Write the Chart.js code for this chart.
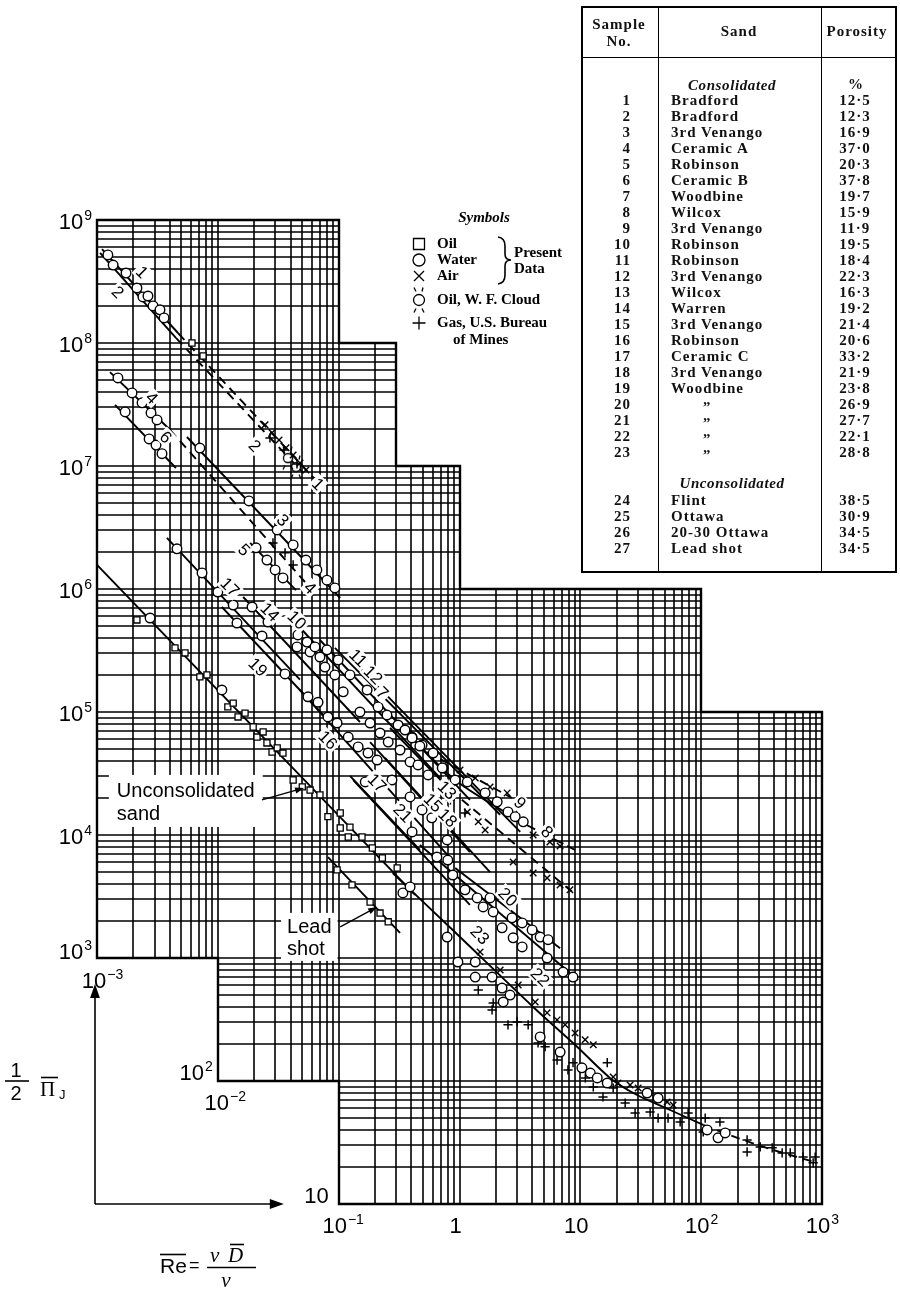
<!DOCTYPE html>
<html>
<head>
<meta charset="utf-8">
<title>Friction factor versus Reynolds number for porous media</title>
<script src="https://cdn.jsdelivr.net/npm/chart.js@4.4.1/dist/chart.umd.min.js"></script>
<style>
  html, body { margin: 0; padding: 0; background: #fff; }
  #page { position: relative; width: 900px; height: 1296px; overflow: hidden; background: #fff; }
  #chart { position: absolute; left: 0; top: 0; }
  #sandTable { position: absolute; left: 581px; top: 6px; width: 316px; height: 567px; box-sizing: border-box;
    border: 2px solid #000; font-family: "Liberation Serif", "Times New Roman", serif; font-weight: bold; color: #111; }
  #sandTable .vr { position: absolute; top: 0; bottom: 0; width: 0; border-left: 1.6px solid #000; }
  #sandTable .hr { position: absolute; left: 0; right: 0; height: 0; border-top: 1.6px solid #000; }
  #sandTable .cell { position: absolute; white-space: nowrap; font-size: 15px; line-height: 16px; letter-spacing: 1px; }
  #sandTable .it { font-style: italic; letter-spacing: 0.6px; }
</style>
</head>
<body>
<div id="page">
  <canvas id="chart" width="900" height="1296"></canvas>
  <div id="sandTable"></div>
</div>
<script>
// ---------------- axis ranges and ticks ----------------
const xRange = [1e-3, 1e3];
const yRange = [10, 1e9];
const yTicksLeft = [1e9, 1e8, 1e7, 1e6, 1e5, 1e4, 1e3];
const xTicksBottom = [1e-1, 1, 10, 1e2, 1e3];

// outline of the ruled (staircase) paper, in data units
const paperOutline = [[1e-3,1e9],[0.1,1e9],[0.1,1e8],[0.3,1e8],[0.3,1e7],[1,1e7],[1,1e6],[100,1e6],[100,1e5],
  [1000,1e5],[1000,10],[0.1,10],[0.1,100],[0.01,100],[0.01,1000],[1e-3,1000]];

// ---------------- correlation lines, one per sample ----------------
const line1 = [[1.1e-3,5.8e8],[4.7e-3,1.2e8]];
const line1Tail = [[4.7e-3,1.2e8],[6.7e-2,7.4e6]];
const line2 = [[1.06e-3,5.4e8],[4.5e-3,1.1e8]];
const line2Tail = [[4.5e-3,1.1e8],[5.07e-2,8.8e6]];
const line4 = [[1.28e-3,5.8e7],[4.02e-3,1.97e7]];
const line4Tail = [[4.02e-3,1.97e7],[5.26e-2,1.14e6]];
const line6 = [[1.41e-3,3.14e7],[4.5e-3,9.63e6]];
const line3 = [[5.55e-3,1.72e7],[0.103,8.45e5]];
const line5 = [[1.85e-2,2.37e6],[4.43e-2,9.8e5]];
const line17 = [[3.79e-3,2.6e6],[4.78e-2,1.83e5]];
const line14 = [[1.62e-2,8.61e5],[0.15,8.29e4]];
const line19 = [[1.08e-2,7.14e5],[8.46e-2,8.29e4]];
const line10 = [[3.96e-2,5.92e5],[0.69,2.91e4]];
const line11 = [[7.0e-2,3.85e5],[1.22,1.93e4]];
const line12 = [[9.3e-2,3.32e5],[2.17,1.46e4]];
const line7 = [[0.137,2.5e5],[3.18,1.06e4]];
const line16 = [[4.78e-2,1.51e5],[0.84,6.5e3]];
const line13 = [[0.266,7.41e4],[0.84,2.32e4]];
const line13Tail = [[0.84,2.32e4],[8.55,3.45e3]];
const line15 = [[0.182,5.7e4],[1.22,7.27e3]];
const line18 = [[0.242,4.23e4],[1.79,5.0e3]];
const line9 = [[0.54,4.73e4],[2.72,2.0e4]];
const line8 = [[0.322,7.84e4],[0.92,2.8e4],[3.63,1.2e4]];
const line8Tail = [[3.63,1.2e4],[9.05,7.55e3]];
const line17b = [[0.124,3.02e4],[0.47,7.55e3]];
const line21 = [[0.132,2.8e4],[1.22,2.7e3]];
const line20 = [[0.92,5.39e3],[6.8,1.2e3]];
const line22 = [[0.47,8.29e3],[9.6,6.62e2]];
const line23 = [[0.28,4.91e3],[0.84,1.76e3],[4.07,4.0e2],[9.4,1.9e2],[17.6,1.06e2],[29.5,76.9],[55.4,58.1],[104,43.9]];
const line23Tail = [[104,43.9],[199,34.5],[372,28.0],[912,21.6]];
const lineUncons = [[1e-3,1.57e6],[0.429,3.26e3]];
const lineLead = [[8.15e-2,6.62e3],[0.322,1.6e3]];

// ---------------- measured points by fluid ----------------
const waterPts = [
  [1.23e-3,5.2e8],[1.36e-3,4.3e8],[1.74e-3,3.7e8],[2.14e-3,2.8e8],[2.4e-3,2.37e8],[2.64e-3,2.41e8],[2.91e-3,2.0e8],[3.32e-3,1.86e8],[3.59e-3,1.6e8],
  [1.49e-3,5.2e7],[1.95e-3,3.93e7],[2.36e-3,3.26e7],[2.8e-3,2.7e7],[3.14e-3,2.37e7],
  [1.71e-3,2.75e7],[2.7e-3,1.66e7],[3.08e-3,1.48e7],[3.45e-3,1.26e7],
  [7.1e-3,1.4e7],[1.81e-2,5.2e6],[3.1e-2,3.02e6],[4.2e-2,2.28e6],[5.36e-2,1.72e6],[6.6e-2,1.43e6],[8.0e-2,1.18e6],[9.3e-2,1.02e6],
  [2.07e-2,2.16e6],[2.55e-2,1.72e6],[2.98e-2,1.43e6],[3.46e-2,1.23e6],
  [4.59e-3,2.12e6],[7.4e-3,1.35e6],[1.0e-2,9.45e5],[1.34e-2,7.41e5],[2.32e-2,4.15e5],
  [1.92e-2,7.14e5],[2.6e-2,5.39e5],[1.44e-2,5.29e5],[3.6e-2,2.04e5],
  [4.6e-2,4.23e5],[5.47e-2,3.7e5],[4.52e-2,3.38e5],[5.8e-2,3.08e5],[6.37e-2,3.38e5],[7.0e-2,2.8e5],[8.0e-2,3.2e5],[7.7e-2,2.32e5],
  [9.9e-2,2.65e5],[9.3e-2,2.0e5],[0.124,2.0e5],[0.109,1.46e5],[0.172,1.51e5],[0.15,1.0e5],[0.212,1.1e5],[0.182,8.14e4],
  [0.251,9.45e4],[0.22,6.75e4],[0.31,7.84e4],[0.257,5.7e4],[0.405,6.26e4],[0.322,4.91e4],[0.49,5.39e4],[0.39,3.93e4],
  [0.605,4.64e4],[0.454,3.71e4],[0.73,3.51e4],[0.55,3.08e4],
  [5.57e-2,1.33e5],[6.75e-2,1.2e5],[8.15e-2,9.11e4],[9.7e-2,8.14e4],[0.12,6.26e4],[0.145,5.2e4],[0.175,4.64e4],[0.208,4.07e4],
  [0.276,2.8e4],[0.39,2.04e4],[0.49,1.6e4],[0.59,1.38e4],[0.79,9.11e3],
  [0.354,7.14e4],[0.405,6.15e4],[0.47,5.29e4],[0.72,3.51e4],[0.92,2.8e4],[1.16,2.7e4],[1.63,2.2e4],[2.05,1.86e4],[2.52,1.54e4],[2.89,1.41e4],[3.37,1.28e4],
  [0.166,2.7e4],[0.405,1.06e4],
  [0.65,6.62e3],[0.8,6.26e3],[0.88,4.73e3],[1.11,3.58e3],[1.4,3.08e3],[1.57,2.6e3],[1.79,3.08e3],[1.9,2.37e3],[2.25,1.76e3],[2.72,2.12e3],
  [2.78,1.46e3],[3.3,1.93e3],[3.3,1.23e3],[3.99,1.69e3],[4.65,1.48e3],[5.41,1.41e3],[5.31,1.0e3],[7.2,7.69e2],[8.7,7.0e2],
  [0.34,3.38e3],[0.39,3.78e3],[0.79,1.48e3],[0.97,9.28e2],[1.35,9.28e2],[1.35,7.0e2],[1.86,7.0e2],[2.25,5.7e2],[2.62,5.0e2],[2.3,4.39e2],
  [4.65,2.28e2],[6.8,1.72e2],[10.3,1.28e2],[12.1,1.16e2],[13.8,1.06e2],[16.7,96.3],[35.7,79.9],[44.0,72.7],[112,40.0],[138,34.5],[158,37.8],
  [2.75e-3,5.81e5],[1.08e-2,1.51e5]
];
const oilPts = [
  [6.11e-3,1.0e8],[7.54e-3,7.84e7],
  [4.42e-3,3.32e5],[5.35e-3,3.02e5],[8.13e-3,2.0e5],[1.34e-2,1.18e5],[1.68e-2,9.8e4],[2.37e-2,6.88e4],[3.1e-2,5.1e4],[3.46e-2,4.64e4],
  [5.8e-2,2.32e4],[7.0e-2,2.12e4],[0.103,1.51e4],[0.124,1.16e4],[0.156,9.63e3],[0.19,7.84e3],[0.23,6.5e3],[0.305,5.39e3],
  [9.7e-2,5.2e3],[0.129,3.93e3],[0.182,2.85e3],[0.22,2.32e3],[0.257,1.97e3]
];
const unconsPts = [
  [2.14e-3,5.6e5],[7.1e-3,1.93e5],[1.21e-2,1.1e5],[1.47e-2,9.11e4],[1.96e-2,7.55e4],[2.11e-2,6.26e4],[2.55e-2,5.6e4],[2.81e-2,4.73e4],
  [4.2e-2,2.8e4],[5.0e-2,2.46e4],[8.15e-2,1.41e4],[0.103,1.14e4],[0.12,9.63e3]
];
const airPts = [
  [2.46e-2,2.16e7],[2.81e-2,1.86e7],[3.21e-2,1.63e7],[3.67e-2,1.41e7],[4.2e-2,1.23e7],[4.79e-2,1.06e7],[5.36e-2,9.28e6],
  [1.01,3.38e4],[1.35,2.91e4],[1.79,2.46e4],[2.48,2.2e4],
  [4.07,1.0e4],[5.6,8.77e3],[6.8,8.14e3],
  [1.16,1.54e4],[1.43,1.28e4],[1.63,1.1e4],[2.78,6.04e3],[4.07,4.91e3],[5.31,4.47e3],[6.8,3.93e3],[8.2,3.58e3],
  [1.48,1.12e3],[2.17,7.99e2],[3.06,6.04e2],[4.23,4.39e2],[5.31,3.58e2],[6.42,3.14e2],[7.49,2.86e2],[9.05,2.46e2],[10.96,2.16e2],[12.8,1.97e2],
  [18.7,1.08e2],[20.5,96.3],[25.8,92.8],[30.1,87.7],[37.8,79.9],[44.0,74.1],[52.3,67.5],[58.6,63.8]
];
const gasPts = [
  [2.7e-2,1.69e7],[3.53e-2,1.35e7],[4.52e-2,1.04e7],
  [2.86e-2,2.37e6],[3.6e-2,1.97e6],[4.2e-2,1.57e6],
  [0.84,1.93e4],[1.11,1.51e4],
  [1.43,5.49e2],[1.9,4.31e2],[1.86,3.78e2],[2.52,2.86e2],[3.0,3.02e2],[3.7,2.86e2],[4.47,2.04e2],[5.11,1.9e2],[6.42,1.48e2],[7.9,1.23e2],
  [8.7,1.41e2],[11.0,1.06e2],[12.8,89.4],[15.4,74.1],[16.7,1.41e2],[18.7,87.7],[23.5,66.2],[28.4,54.9],[37.8,55.9],[44.0,50.0],[53.2,50.0],
  [67.0,46.5],[78.0,54.9],[108,50.0],[143,46.5],[104,38.5],[240,33.2],[240,26.5],[308,29.1],[387,28.6],[468,26.0],[546,26.0],[698,24.1],
  [878,24.1],[845,21.6]
];
const cloudPts = [[4.43e-2,9.8e6],[3.8e-2,1.16e7]];

// sample numbers written along the lines
const labelText = ['1','2','2','1','4','6','3','5','4','17','14','10','19','11','12','7','16','13','15','18','9','8','17','21','20','23','22'];
const labelAt = [[2.36e-3,3.78e8],[1.49e-3,2.6e8],[2.03e-2,1.46e7],[6.75e-2,7.14e6],[2.85e-3,3.58e7],[3.72e-3,1.72e7],[3.46e-2,3.64e6],
  [1.65e-2,2.08e6],[5.8e-2,1.02e6],[1.26e-2,1.04e6],[2.7e-2,6.5e5],[4.52e-2,5.6e5],[2.15e-2,2.32e5],[0.145,2.75e5],[0.193,2.0e5],
  [0.23,1.43e5],[8.15e-2,5.92e4],[0.79,2.32e4],[0.605,1.83e4],[0.8,1.38e4],[3.17,1.83e4],[5.31,1.06e4],[0.208,2.65e4],[0.34,1.51e4],
  [2.52,3.14e3],[1.48,1.54e3],[4.65,7.0e2]];

// ---------------- sample table ----------------
const sampleNo = [1,2,3,4,5,6,7,8,9,10,11,12,13,14,15,16,17,18,19,20,21,22,23,24,25,26,27];
const sandName = ['Bradford','Bradford','3rd Venango','Ceramic A','Robinson','Ceramic B','Woodbine','Wilcox','3rd Venango','Robinson',
  'Robinson','3rd Venango','Wilcox','Warren','3rd Venango','Robinson','Ceramic C','3rd Venango','Woodbine','\u201E','\u201E','\u201E','\u201E',
  'Flint','Ottawa','20-30 Ottawa','Lead shot'];
const porosity = ['12·5','12·3','16·9','37·0','20·3','37·8','19·7','15·9','11·9','19·5','18·4','22·3','16·3','19·2','21·4','20·6','33·2',
  '21·9','23·8','26·9','27·7','22·1','28·8','38·5','30·9','34·5','34·5'];

(function buildTable(){
  const t = document.getElementById('sandTable');
  const add = (cls, text, css) => { const d = document.createElement('div'); d.className = cls; if (text !== null) d.textContent = text; Object.assign(d.style, css); t.appendChild(d); return d; };
  add('vr', null, {left: '75px'});
  add('vr', null, {left: '238px'});
  add('hr', null, {top: '49px'});
  const center = (text, x, y, cls) => add('cell' + (cls ? ' ' + cls : ''), text, {left: x + 'px', top: y + 'px', transform: 'translate(-50%,-50%)'});
  center('Sample', 36, 16); center('No.', 36, 33);
  center('Sand', 156, 23); center('Porosity', 274, 23);
  center('Consolidated', 149, 77, 'it'); center('%', 273, 76);
  center('Unconsolidated', 149, 475, 'it');
  sampleNo.forEach((n, i) => {
    const y = i < 23 ? 92 + 16 * i : 492 + 16 * (i - 23);
    add('cell', String(n), {right: (312 - 48) + 'px', top: y + 'px', transform: 'translateY(-50%)'});
    const ditto = sandName[i] === '\u201E';
    add('cell', sandName[i], {left: (ditto ? 120 : 88) + 'px', top: (ditto ? y - 5 : y) + 'px', transform: 'translateY(-50%)'});
    center(porosity[i], 272, y);
  });
})();

// ---------------- marker shapes ----------------
function drawCloud(ctx, cx, cy, r) {
  ctx.beginPath(); ctx.arc(cx, cy, r, 0, Math.PI * 2); ctx.fillStyle = '#fff'; ctx.fill(); ctx.stroke();
  ctx.beginPath();
  ctx.moveTo(cx - 5, cy - r - 7); ctx.lineTo(cx - 3, cy - r - 3);
  ctx.moveTo(cx + 4, cy - r - 7); ctx.lineTo(cx + 3, cy - r - 3);
  ctx.moveTo(cx - 3, cy + r + 3); ctx.lineTo(cx - 5, cy + r + 7);
  ctx.moveTo(cx + 3, cy + r + 3); ctx.lineTo(cx + 5, cy + r + 7);
  ctx.stroke();
}
const cloudImg = (function(){
  const c = document.createElement('canvas'); c.width = 20; c.height = 30;
  const g = c.getContext('2d'); g.strokeStyle = '#000'; g.lineWidth = 1.3; drawCloud(g, 10, 15, 4.5); return c;
})();

function legendMarker(ctx, kind, cx, cy) {
  ctx.save(); ctx.strokeStyle = '#000'; ctx.fillStyle = '#fff'; ctx.lineWidth = 1.3;
  ctx.beginPath();
  if (kind === 'square') { ctx.rect(cx - 5.5, cy - 5.5, 11, 11); ctx.fill(); ctx.stroke(); }
  else if (kind === 'circle') { ctx.arc(cx, cy, 6, 0, Math.PI * 2); ctx.fill(); ctx.stroke(); }
  else if (kind === 'x') { ctx.moveTo(cx - 5, cy - 5); ctx.lineTo(cx + 5, cy + 5); ctx.moveTo(cx + 5, cy - 5); ctx.lineTo(cx - 5, cy + 5); ctx.stroke(); }
  else if (kind === 'plus') { ctx.moveTo(cx - 6.5, cy); ctx.lineTo(cx + 6.5, cy); ctx.moveTo(cx, cy - 6.5); ctx.lineTo(cx, cy + 6.5); ctx.stroke(); }
  else if (kind === 'cloud') { drawCloud(ctx, cx, cy, 5.5); }
  ctx.restore();
}

// ---------------- datasets ----------------
const asXY = arr => arr.map(([x, y]) => ({x, y}));
const datasets = [];
function addLine(data, dashed, smooth) {
  datasets.push({data: asXY(data), showLine: true, borderColor: '#000', borderWidth: 1.9,
    borderDash: dashed ? [9, 6] : [], pointRadius: 0, tension: smooth ? 0.3 : 0, order: 2});
}
function addPoints(data, style, radius, width) {
  datasets.push({data: asXY(data), showLine: false, pointStyle: style, pointRadius: radius, borderWidth: width,
    borderColor: '#000', backgroundColor: '#fff', order: 0});
}
[line1, line2, line4, line6, line3, line5, line17, line14, line19, line10, line11, line12, line7, line16, line13,
 line15, line18, line17b, line21, line20, line22, lineUncons, lineLead].forEach(l => addLine(l, false, false));
[line1Tail, line2Tail, line4Tail, line13Tail, line9, line8Tail].forEach(l => addLine(l, true, false));
addLine(line8, false, true);
addLine(line23, false, true);
addLine(line23Tail, true, true);
addPoints(waterPts, 'circle', 4.8, 1.4);
addPoints(oilPts, 'rect', 4.3, 1.3);
addPoints(unconsPts, 'rect', 4.3, 1.3);
addPoints(unconsPts, 'crossRot', 4.2, 1.2);
addPoints(airPts, 'crossRot', 4.6, 1.4);
addPoints(gasPts, 'cross', 4.6, 1.5);
addPoints(cloudPts, cloudImg, 5, 1.3);

// ---------------- staircase ruled paper ----------------
const paperGrid = {
  id: 'paperGrid',
  beforeDatasetsDraw(chart) {
    const {ctx, scales: {x, y}} = chart;
    const poly = paperOutline.map(([a, b]) => [Math.round(x.getPixelForValue(a)), Math.round(y.getPixelForValue(b))]);
    const trace = () => { ctx.beginPath(); poly.forEach(([px, py], i) => i ? ctx.lineTo(px, py) : ctx.moveTo(px, py)); ctx.closePath(); };
    ctx.save();
    trace(); ctx.clip();
    ctx.strokeStyle = '#000'; ctx.lineWidth = 1.6;
    ctx.beginPath();
    for (let e = -3; e < 3; e++) for (let m = 1; m < 10; m++) {
      const px = Math.round(x.getPixelForValue(m * Math.pow(10, e)));
      ctx.moveTo(px, y.top); ctx.lineTo(px, y.bottom);
    }
    for (let e = 1; e < 9; e++) for (let m = 1; m < 10; m++) {
      const py = Math.round(y.getPixelForValue(m * Math.pow(10, e)));
      ctx.moveTo(x.left, py); ctx.lineTo(x.right, py);
    }
    ctx.stroke();
    ctx.restore();
    ctx.save(); ctx.strokeStyle = '#000'; ctx.lineWidth = 2.4; trace(); ctx.stroke(); ctx.restore();
  }
};

const SANS = '"Liberation Sans", Arial, sans-serif';
const SERIF = '"Liberation Serif", "Times New Roman", serif';

function powerLabel(ctx, exp, px, py, mode) {
  ctx.font = '22px ' + SANS;
  const main = exp === '0' ? '1' : '10';
  const sup = (exp === '0' || exp === '1') ? '' : exp;
  const w1 = ctx.measureText(main).width;
  ctx.font = '14px ' + SANS;
  const w2 = sup ? ctx.measureText(sup).width + 1 : 0;
  const x0 = mode === 'right' ? px - w1 - w2 : px - w1 / 2;
  ctx.textAlign = 'left'; ctx.textBaseline = 'alphabetic'; ctx.fillStyle = '#000';
  ctx.font = '22px ' + SANS; ctx.fillText(main, x0, py);
  if (sup) { ctx.font = '14px ' + SANS; ctx.fillText(sup, x0 + w1 + 1, py - 9); }
}

function arrow(ctx, x1, y1, x2, y2, head) {
  const a = Math.atan2(y2 - y1, x2 - x1);
  ctx.beginPath(); ctx.moveTo(x1, y1); ctx.lineTo(x2 - Math.cos(a) * head * 0.8, y2 - Math.sin(a) * head * 0.8); ctx.stroke();
  ctx.beginPath(); ctx.moveTo(x2, y2);
  ctx.lineTo(x2 - head * Math.cos(a) + head * 0.35 * Math.sin(a), y2 - head * Math.sin(a) - head * 0.35 * Math.cos(a));
  ctx.lineTo(x2 - head * Math.cos(a) - head * 0.35 * Math.sin(a), y2 - head * Math.sin(a) + head * 0.35 * Math.cos(a));
  ctx.closePath(); ctx.fill();
}

const annotate = {
  id: 'annotate',
  afterDatasetsDraw(chart) {
    const {ctx, scales: {x, y}} = chart;
    const X = v => x.getPixelForValue(v), Y = v => y.getPixelForValue(v);
    // sample numbers, knocked out of the ruling
    ctx.save();
    ctx.font = '17px ' + SANS;
    labelText.forEach((t, i) => {
      const [vx, vy] = labelAt[i];
      ctx.save(); ctx.translate(X(vx), Y(vy)); ctx.rotate(Math.PI / 4);
      const w = ctx.measureText(t).width;
      ctx.fillStyle = '#fff'; ctx.fillRect(-w / 2 - 2, -8, w + 4, 16);
      ctx.fillStyle = '#000'; ctx.textAlign = 'center'; ctx.textBaseline = 'middle'; ctx.fillText(t, 0, 1);
      ctx.restore();
    });
    ctx.restore();

    // callouts
    ctx.save();
    ctx.font = '20px ' + SANS; ctx.fillStyle = '#000'; ctx.strokeStyle = '#000'; ctx.lineWidth = 1.3;
    let tx = X(1.46e-3), ty = Y(2.04e4);
    ctx.fillStyle = '#fff'; ctx.fillRect(tx - 8, ty - 22, ctx.measureText('Unconsolidated').width + 16, 52);
    ctx.fillStyle = '#000'; ctx.textBaseline = 'alphabetic'; ctx.textAlign = 'left';
    ctx.fillText('Unconsolidated', tx, ty); ctx.fillText('sand', tx, ty + 23);
    arrow(ctx, X(2.32e-2), Y(1.93e4), X(5.17e-2), Y(2.41e4), 9);
    tx = X(3.74e-2); ty = Y(1.6e3);
    ctx.fillStyle = '#fff'; ctx.fillRect(tx - 6, ty - 20, ctx.measureText('Lead').width + 12, 48);
    ctx.fillStyle = '#000';
    ctx.fillText('Lead', tx, ty); ctx.fillText('shot', tx, ty + 22);
    arrow(ctx, X(0.103), Y(1.79e3), X(0.208), Y(2.6e3), 9);
    ctx.restore();
  },
  afterDraw(chart) {
    const {ctx, scales: {x, y}, chartArea: ca} = chart;
    const X = v => x.getPixelForValue(v), Y = v => y.getPixelForValue(v);
    ctx.save();
    // tick labels at the corners of the staircase
    yTicksLeft.forEach(v => {
      const e = String(Math.round(Math.log10(v)));
      powerLabel(ctx, e, ca.left - 5, v === 1e3 ? Y(v) + 1 : Y(v) + 9, 'right');
    });
    powerLabel(ctx, '2', X(0.01) - 5, Y(100) - 1, 'right');
    powerLabel(ctx, '1', X(0.1) - 10, Y(10) - 1, 'right');
    powerLabel(ctx, '\u22123', X(1e-3) - 3, Y(1e3) + 30, 'center');
    powerLabel(ctx, '\u22122', X(1e-2) - 1, Y(1e2) + 29, 'center');
    xTicksBottom.forEach(v => {
      const e = Math.round(Math.log10(v));
      powerLabel(ctx, e === -1 ? '\u22121' : String(e), X(v) - 4, Y(10) + 29, 'center');
    });

    // axis arrows
    ctx.strokeStyle = '#000'; ctx.fillStyle = '#000'; ctx.lineWidth = 1.6;
    arrow(ctx, ca.left - 2, ca.bottom, ca.left - 2, Y(1e3) + 26, 14);
    arrow(ctx, ca.left - 2, ca.bottom, X(0.01) + 66, ca.bottom, 14);

    // ordinate title  ½ Π̄_J
    ctx.textAlign = 'center'; ctx.textBaseline = 'alphabetic';
    ctx.font = '20px ' + SANS;
    ctx.fillText('1', 16, 1077); ctx.fillText('2', 16, 1100);
    ctx.lineWidth = 1.6; ctx.beginPath(); ctx.moveTo(5, 1081); ctx.lineTo(29, 1081); ctx.stroke();
    ctx.textAlign = 'left';
    ctx.font = '21px ' + SERIF; ctx.fillText('\u03A0', 40, 1096);
    ctx.beginPath(); ctx.moveTo(41, 1077.5); ctx.lineTo(58, 1077.5); ctx.stroke();
    ctx.font = '13px ' + SANS; ctx.fillText('J', 59, 1099);

    // abscissa title  Re = v D / ν
    ctx.font = '21px ' + SANS; ctx.fillText('Re', 160, 1273);
    ctx.beginPath(); ctx.moveTo(160, 1254.5); ctx.lineTo(186, 1254.5); ctx.stroke();
    ctx.font = '18px ' + SANS; ctx.fillText('=', 189, 1271);
    ctx.beginPath(); ctx.moveTo(207, 1267.5); ctx.lineTo(256, 1267.5); ctx.stroke();
    ctx.font = 'italic 21px ' + SERIF;
    ctx.fillText('\u03BD', 210, 1262); ctx.fillText('D', 228, 1262);
    ctx.beginPath(); ctx.moveTo(230, 1244.5); ctx.lineTo(244, 1244.5); ctx.stroke();
    ctx.textAlign = 'center'; ctx.fillText('\u03BD', 226, 1287);

    // symbol key
    ctx.fillStyle = '#000'; ctx.textAlign = 'center'; ctx.textBaseline = 'middle';
    ctx.font = 'italic bold 15px ' + SERIF; ctx.fillText('Symbols', 484, 218);
    ctx.font = 'bold 15px ' + SERIF; ctx.textAlign = 'left';
    legendMarker(ctx, 'square', 419, 244); ctx.fillText('Oil', 437, 244);
    legendMarker(ctx, 'circle', 419, 260); ctx.fillText('Water', 437, 260);
    legendMarker(ctx, 'x', 419, 276); ctx.fillText('Air', 437, 276);
    legendMarker(ctx, 'cloud', 419, 300); ctx.fillText('Oil, W. F. Cloud', 437, 300);
    legendMarker(ctx, 'plus', 419, 323); ctx.fillText('Gas, U.S. Bureau', 437, 323);
    ctx.fillText('of Mines', 453, 340);
    ctx.fillText('Present', 514, 253); ctx.fillText('Data', 514, 269);
    ctx.lineWidth = 1.6; ctx.beginPath();
    ctx.moveTo(498, 237); ctx.quadraticCurveTo(505, 238, 505, 246); ctx.lineTo(505, 254);
    ctx.quadraticCurveTo(505, 260, 511, 260); ctx.quadraticCurveTo(505, 260, 505, 266);
    ctx.lineTo(505, 275); ctx.quadraticCurveTo(505, 283, 498, 284); ctx.stroke();
    ctx.restore();
  }
};

new Chart(document.getElementById('chart'), {
  type: 'scatter',
  data: {datasets},
  options: {
    responsive: false, animation: false, devicePixelRatio: 1, events: [],
    layout: {padding: {left: 97, right: 78, top: 220, bottom: 92}},
    scales: {
      x: {type: 'logarithmic', min: xRange[0], max: xRange[1], display: false},
      y: {type: 'logarithmic', min: yRange[0], max: yRange[1], display: false}
    },
    plugins: {legend: {display: false}, tooltip: {enabled: false}}
  },
  plugins: [paperGrid, annotate]
});
</script>
</body>
</html>
